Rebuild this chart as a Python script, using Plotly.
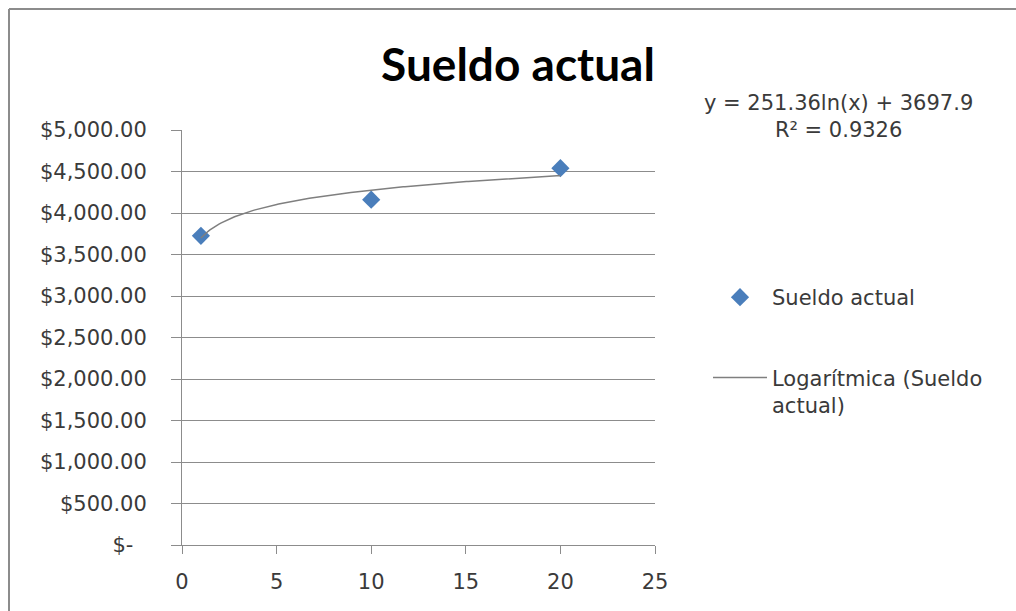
import numpy as np
import plotly.graph_objects as go

# Data
years = [1, 10, 20]
salaries = [3725, 4160, 4540]
series_name = "Sueldo actual"
trend_name = "Logarítmica (Sueldo<br>actual)"
chart_title = "Sueldo actual"
y_tickvals = [0, 500, 1000, 1500, 2000, 2500, 3000, 3500, 4000, 4500, 5000]
y_ticktext = ["$-\u00a0\u00a0", "$500.00", "$1,000.00", "$1,500.00", "$2,000.00", "$2,500.00",
              "$3,000.00", "$3,500.00", "$4,000.00", "$4,500.00", "$5,000.00"]
x_tickvals = [0, 5, 10, 15, 20, 25]

# Logarithmic trendline fitted from the data (as Excel does)
a, b = np.polyfit(np.log(years), salaries, 1)
xt = np.linspace(min(years), max(years), 200)
yt = a * np.log(xt) + b
eq_text = "y = 251.36ln(x) + 3697.9<br>R² = 0.9326"

W, H = 1016, 611
L, R, T, B = 182, 361, 130, 66
pw, ph = W - L - R, H - T - B

def px_x(p):
    return (p - L) / pw

def px_y(p):
    return (H - B - p) / ph

FONT = "DejaVu Sans"
TXT = "#3a3a3a"
GRID = "#8c8c8c"

fig = go.Figure()
fig.add_trace(go.Scatter(
    x=years, y=salaries, mode="markers", name=series_name,
    marker=dict(symbol="diamond", size=14, color="#4A7EBB"),
    legendgroup="a",
))
fig.add_trace(go.Scatter(
    x=xt, y=yt, mode="lines", name=trend_name,
    line=dict(color="#7f7f7f", width=1.5),
    legendgroup="b",
))

fig.update_layout(
    width=W, height=H,
    margin=dict(l=L, r=R, t=T, b=B),
    paper_bgcolor="white", plot_bgcolor="white",
    font=dict(family=FONT, size=21, color=TXT),
    title=dict(text="<b>" + chart_title + "</b>", x=518 / W, xanchor="center",
               y=1 - 65 / H, yanchor="middle",
               font=dict(family="Lato", size=46, color="#000000")),
    showlegend=True,
    legend=dict(x=px_x(708), xanchor="left", y=px_y(277), yanchor="top",
                traceorder="grouped", tracegroupgap=50, valign="top",
                font=dict(family=FONT, size=21, color=TXT),
                bgcolor="rgba(0,0,0,0)", itemwidth=54),
    xaxis=dict(range=[0, 25], tickvals=x_tickvals, showgrid=False,
               showline=True, linecolor=GRID, linewidth=1,
               ticks="outside", ticklen=8, tickcolor=GRID,
               zeroline=False, ticklabelstandoff=10,
               tickfont=dict(family=FONT, size=21, color=TXT)),
    yaxis=dict(range=[0, 5000], tickvals=y_tickvals, ticktext=y_ticktext,
               showgrid=True, gridcolor=GRID, gridwidth=1,
               showline=True, linecolor=GRID, linewidth=1,
               ticks="outside", ticklen=10, tickcolor=GRID,
               zeroline=False, ticklabelstandoff=20,
               tickfont=dict(family=FONT, size=21, color=TXT)),
)

fig.add_annotation(text=eq_text, xref="paper", yref="paper",
                   x=px_x(838), y=px_y(116), xanchor="center", yanchor="middle",
                   showarrow=False, align="center",
                   font=dict(family=FONT, size=21, color=TXT))

# chart area frame (left and top edges visible)
fig.add_shape(type="line", xref="paper", yref="paper",
              x0=px_x(9), x1=px_x(9), y0=px_y(611), y1=px_y(9),
              line=dict(color="#8c8c8c", width=2), layer="below")
fig.add_shape(type="line", xref="paper", yref="paper",
              x0=px_x(9), x1=px_x(1016), y0=px_y(9), y1=px_y(9),
              line=dict(color="#8c8c8c", width=2), layer="below")

fig.write_html("out.html", config={"displayModeBar": False},
               post_script="document.body.style.margin='0';")
